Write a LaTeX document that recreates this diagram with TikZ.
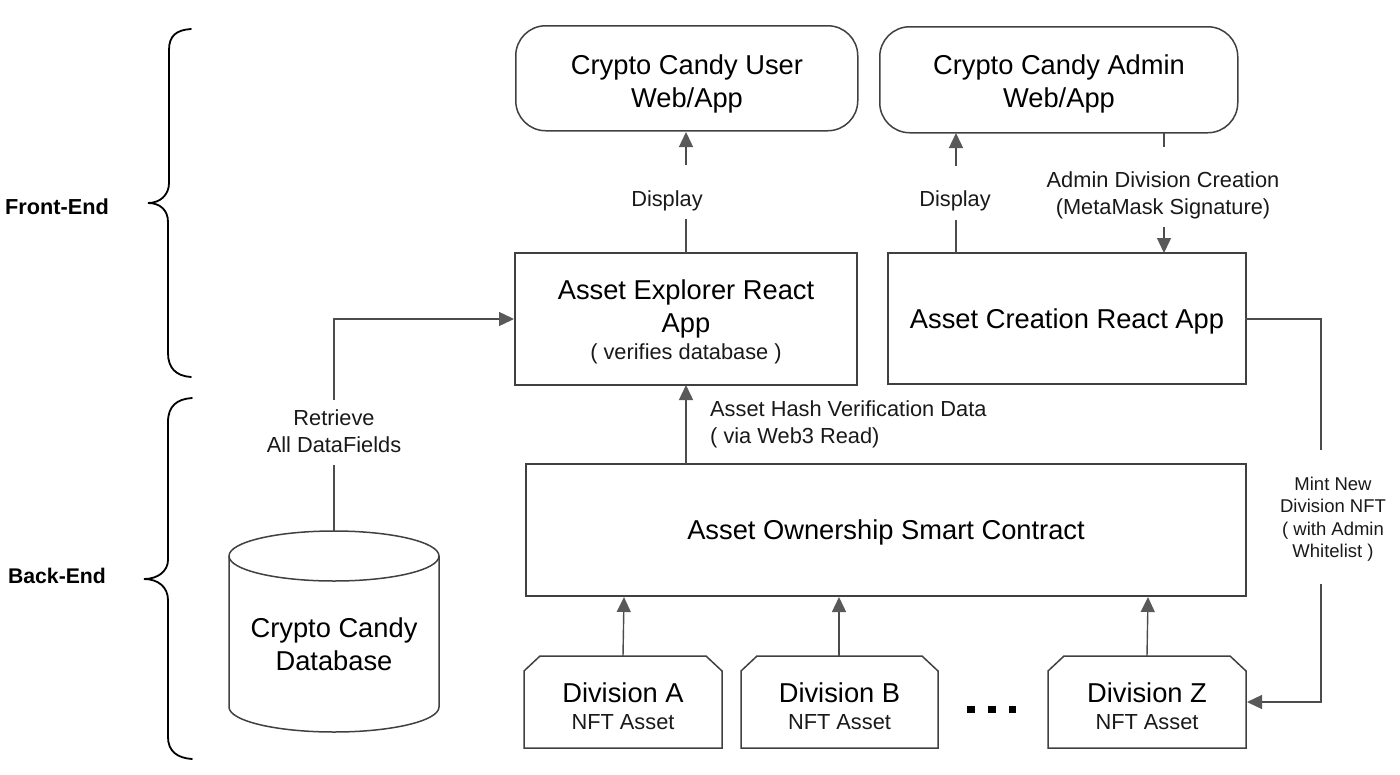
\documentclass[tikz,border=0pt]{standalone}
\usepackage{fontspec}
\setmainfont{Liberation Sans}
\usetikzlibrary{arrows.meta,shapes.geometric,shapes.misc}
\tikzset{
 px/.style={x=1pt,y=-1pt},
 box/.style={draw=black!75,line width=1.5pt,inner sep=0pt},
 rbox/.style={box,rounded corners=30pt},
 big/.style={align=center,inner sep=0pt,font=\fontsize{27.3}{33}\selectfont},
 lab/.style={align=center,font=\fontsize{21.8}{27}\selectfont,text=black!90,inner sep=1pt},
 lnk/.style={draw=black!70,line width=1.4pt},
 arr/.style={lnk,-{Triangle[length=15pt,width=14pt,fill=black!65,color=black!65]}},
 side/.style={font=\bfseries\fontsize{21.2}{26}\selectfont,inner sep=0pt},
 brace/.style={draw=black,line width=1.8pt,line cap=round},
 chip/.style={draw=black!75,line width=1.5pt},
}
\newcommand{\bx}[5]{\node[#1,minimum width=#4pt,minimum height=#5pt,anchor=north west,xshift=-1pt,yshift=1pt] (#2) at (#3) {};}
\begin{document}
\begin{tikzpicture}[px]
\useasboundingbox (0,0) rectangle (1400,774);
% boxes
\bx{rbox}{user}{516,26}{342}{105}
\node[big] (usertxt) at (687,83.5) {Crypto Candy User\\Web/App};
\bx{rbox}{admin}{880,27}{358}{106}
\node[big] (admintxt) at (1059,83.5) {Crypto Candy Admin\\Web/App};
\bx{box}{explorer}{515,253}{342}{132}
\node[big] (explorertxt) at (686,309) {Asset Explorer React\\App};
\node[lab] (verifies) at (686,354) {( verifies database )};
\bx{box}{creation}{888,253}{358}{131}
\node[big] (creationtxt) at (1067,321) {Asset Creation React App};
\bx{box}{contract}{526,464}{720}{132}
\node[big] (contracttxt) at (886,532) {Asset Ownership Smart Contract};
% cylinder
\draw[chip] (229,556) arc[x radius=105,y radius=25,start angle=180,end angle=-180];
\draw[chip] (229,556) -- (229,707) arc[x radius=105,y radius=25,start angle=180,end angle=0] -- (439,556);
\node[big] (db) at (334,644) {Crypto Candy\\Database};
% chips
\newcommand{\chipnode}[4]{%
 \draw[chip] (#2,671) -- (#2+16,656) -- (#2+#3-16,656) -- (#2+#3,671) -- (#2+#3,748) -- (#2,748) -- cycle;
 \node[big] (#1a) at (#2+#3/2,693) {Division #4};
 \node[lab] (#1b) at (#2+#3/2,722) {NFT Asset};
}
\chipnode{da}{524}{198}{A}
\chipnode{db}{741}{197}{B}
\chipnode{dz}{1048}{198}{Z}
\foreach \i/\xx in {1/971,2/992,3/1012.5}{\fill[black] (\xx-3.7,706) rectangle (\xx+3.7,713);}
% labels
\node[lab] (disp1) at (667,201) {Display};
\node[lab] (disp2) at (955,201) {Display};
\node[lab] (adm) at (1163,195) {Admin Division Creation\\(MetaMask Signature)};
\node[lab] (ret) at (334,431) {Retrieve\\All DataFields};
\node[lab,align=left,anchor=west] (hash) at (709,424) {Asset Hash Verification Data\\( via Web3 Read)};
\node[lab,font=\fontsize{18.5}{22.5}\selectfont] (mint) at (1333,519) {Mint New\\Division NFT\\( with Admin\\Whitelist )};
% connectors
\draw[lnk] (686,253) -- (686,219);
\draw[arr] (686,165) -- (686,132);
\draw[lnk] (956,253) -- (956,220);
\draw[arr] (956,166) -- (956,133);
\draw[lnk] (1164,133) -- (1164,147);
\draw[arr] (1164,227) -- (1164,253);
\draw[lnk] (334,531) -- (334,465);
\draw[arr] (334,400) -- (334,319) -- (514,319);
\draw[arr] (686,464) -- (686,385);
\draw[lnk] (1245,319) -- (1321,319) -- (1321,450);
\draw[arr] (1321,584) -- (1321,702) -- (1247,702);
\draw[arr] (623,656) -- (624,597);
\draw[arr] (839,656) -- (839,597);
\draw[arr] (1147,656) -- (1148,597);
% braces
\draw[brace] (191,29) .. controls (176,30) and (169,36) .. (169,50) -- (169,183) .. controls (169,195) and (160,203) .. (148,203) .. controls (160,203) and (168,210) .. (168,222) -- (168,353) .. controls (168,368) and (176,376) .. (191,377);
\draw[brace] (192,398) .. controls (177,399) and (168,406) .. (168,422) -- (168,560) .. controls (168,571) and (158,579) .. (144,579) .. controls (158,579) and (168,587) .. (168,600) -- (168,737) .. controls (168,751) and (177,758) .. (192,759);
\node[side,font=\bfseries\fontsize{21.7}{26}\selectfont] (fe) at (57,207) {Front-End};
\node[side] (be) at (57,576) {Back-End};
\end{tikzpicture}
\end{document}
